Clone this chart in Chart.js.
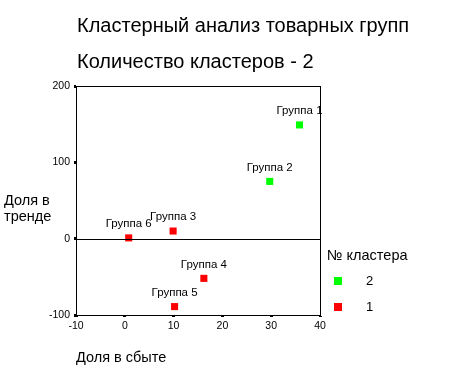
<!DOCTYPE html>
<html>
<head>
<meta charset="utf-8">
<script src="https://cdn.jsdelivr.net/npm/chart.js@4/dist/chart.umd.min.js"></script>
<style>
  html, body { margin: 0; padding: 0; background: #fff; }
  #wrap { width: 471px; height: 376px; position: relative; }
</style>
</head>
<body>
<div id="wrap"><canvas id="canvas1"></canvas></div>
<script>
// data
const groups = ["Группа 1", "Группа 2", "Группа 3", "Группа 4", "Группа 5", "Группа 6"];
const shareSales = [35.8, 29.7, 9.9, 16.2, 10.2, 0.8];   // Доля в сбыте
const shareTrend = [149, 75, 10, -52, -89, 1];          // Доля в тренде
const clusters = [2, 2, 1, 1, 1, 1];
const clusterOrder = [2, 1];
const clusterColors = { 2: "#00ff00", 1: "#ff0000" };
const xTicks = [-10, 0, 10, 20, 30, 40];
const yTicks = [-100, 0, 100, 200];

const FONT = "Arial, 'Liberation Sans', sans-serif";

let datasets = clusterOrder.map((c) => {
  let pts = [];
  groups.forEach((g, i) => {
    if (clusters[i] == c) pts.push({ x: shareSales[i], y: shareTrend[i], name: g });
  });
  return {
    label: String(c),
    data: pts,
    pointStyle: "rect",
    pointRadius: 5,
    pointHoverRadius: 5,
    backgroundColor: clusterColors[c],
    borderColor: clusterColors[c],
    borderWidth: 0,
  };
});

let extras = {
  id: "extras",
  afterDraw(chart) {
    let ctx = chart.ctx;
    let a = chart.chartArea;
    let ys = chart.scales.y;
    ctx.save();
    // frame and zero line
    ctx.strokeStyle = "#000";
    ctx.lineWidth = 1;
    ctx.strokeRect(a.left + 0.5, a.top + 0.5, a.right - a.left, a.bottom - a.top);
    let y0 = Math.round(ys.getPixelForValue(0)) + 0.5;
    ctx.beginPath();
    ctx.moveTo(a.left, y0);
    ctx.lineTo(a.right, y0);
    ctx.stroke();

    ctx.fillStyle = "#000";
    // point labels
    ctx.font = "11.5px " + FONT;
    ctx.textAlign = "center";
    ctx.textBaseline = "middle";
    chart.data.datasets.forEach((ds, di) => {
      chart.getDatasetMeta(di).data.forEach((pt, i) => {
        ctx.fillText(ds.data[i].name, pt.x, pt.y - 14);
      });
    });

    // titles
    ctx.textAlign = "left";
    ctx.textBaseline = "alphabetic";
    ctx.font = "20px " + FONT;
    ctx.fillText("Кластерный анализ товарных групп", 77, 32);
    ctx.fillText("Количество кластеров - 2", 77, 68);

    // axis titles
    ctx.font = "14.5px " + FONT;
    ctx.fillText("Доля в", 4, 205);
    ctx.fillText("тренде", 4, 221);
    ctx.fillText("Доля в сбыте", 76, 362);

    // legend
    ctx.fillText("№ кластера", 327, 260);
    chart.data.datasets.forEach((ds, i) => {
      let cy = 281 + i * 26;
      ctx.fillStyle = ds.backgroundColor;
      ctx.fillRect(334, cy - 4, 8, 8);
      ctx.fillStyle = "#000";
      ctx.font = "13px " + FONT;
      ctx.textBaseline = "middle";
      ctx.fillText(ds.label, 366, cy);
    });
    ctx.restore();
  },
};

let config1 = {
  type: "scatter",
  data: { datasets: datasets },
  options: {
    responsive: true,
    maintainAspectRatio: false,
    animation: false,
    layout: { padding: { left: 0, top: 86, right: 151, bottom: 0 } },
    plugins: {
      legend: { display: false },
      tooltip: { enabled: false },
    },
    scales: {
      x: {
        type: "linear",
        min: -10,
        max: 40,
        afterBuildTicks: (s) => { s.ticks = xTicks.map((v) => ({ value: v })); },
        afterFit: (s) => { s.height = 61; },
        grid: { drawOnChartArea: false, tickLength: 2, tickWidth: 3, color: "#000" },
        border: { color: "#000", width: 1 },
        ticks: { color: "#000", font: { family: FONT, size: 10.5 }, padding: 3, maxRotation: 0 },
      },
      y: {
        type: "linear",
        min: -100,
        max: 200,
        afterBuildTicks: (s) => { s.ticks = yTicks.map((v) => ({ value: v })); },
        afterFit: (s) => { s.width = 76; },
        grid: { drawOnChartArea: false, tickLength: 2, tickWidth: 3, color: "#000" },
        border: { color: "#000", width: 1 },
        ticks: { color: "#000", font: { family: FONT, size: 10.5 }, padding: 4 },
      },
    },
  },
  plugins: [extras],
};

let chart1 = new Chart(document.getElementById("canvas1").getContext("2d"), config1);
</script>
</body>
</html>
